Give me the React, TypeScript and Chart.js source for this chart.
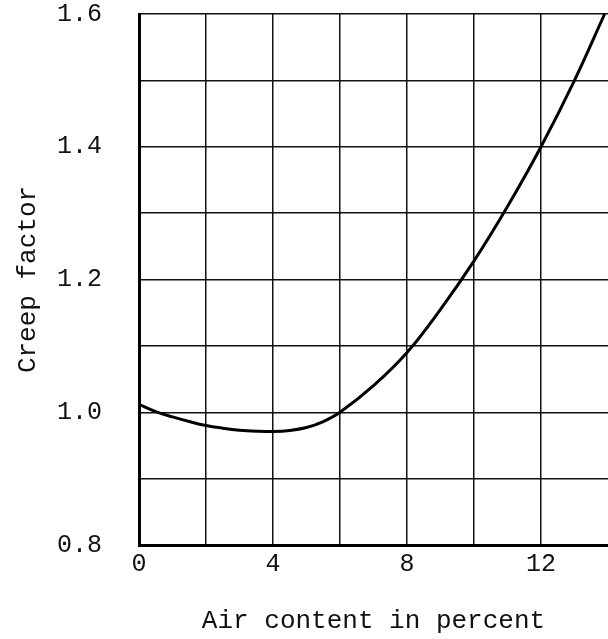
import React, { useEffect, useRef } from "react";
import { Chart, registerables } from "chart.js";

Chart.register(...registerables);

const airContent = [0, 0.5, 1, 1.5, 2, 2.5, 3, 3.5, 4, 4.5, 5, 5.5, 6, 7, 8, 9, 10, 11, 12, 13, 13.9];
const creepFactor = [1.012, 1.001, 0.993, 0.986, 0.98, 0.976, 0.973, 0.9715, 0.971, 0.9725, 0.977, 0.986, 1.0, 1.04, 1.09, 1.155, 1.228, 1.31, 1.4, 1.5, 1.6];
const xLabelValues = [0, 4, 8, 12];
const yLabelValues = [0.8, 1.0, 1.2, 1.4, 1.6];
const xTitle = "Air content in percent";
const yTitle = "Creep factor";

const FONT = "'Liberation Mono', 'DejaVu Sans Mono', monospace";

export default function App() {
  const ref = useRef<HTMLCanvasElement>(null);
  useEffect(() => {
    if (!ref.current) return;
    const chart = new Chart(ref.current, {
      type: "line",
      data: {
        datasets: [
          {
            data: airContent.map((x, i) => ({ x, y: creepFactor[i] })),
            borderColor: "#000",
            borderWidth: 3,
            pointRadius: 0,
            tension: 0.4,
            fill: false,
          },
        ],
      },
      options: {
        animation: false,
        responsive: false,
        devicePixelRatio: 1,
        layout: { padding: { left: 13, right: 0, top: 0, bottom: 2 } },
        plugins: { legend: { display: false }, tooltip: { enabled: false } },
        scales: {
          x: {
            type: "linear",
            min: 0,
            max: 14,
            afterFit: (s: any) => {
              s.height = 92;
              s.paddingLeft = 0;
              s.paddingRight = 0;
            },
            ticks: {
              stepSize: 2,
              autoSkip: false,
              maxRotation: 0,
              padding: 4,
              color: "#111",
              font: { family: FONT, size: 25 },
              callback: (v: any) => (xLabelValues.includes(Number(v)) ? String(v) : ""),
            },
            grid: {
              drawTicks: false,
              color: (c: any) => (c.tick && c.tick.value === 14 ? "rgba(0,0,0,0)" : "#111"),
              lineWidth: 1.5,
            },
            border: { color: "#000", width: 3 },
            title: {
              display: true,
              text: xTitle,
              color: "#111",
              font: { family: FONT, size: 26 },
              padding: 0,
            },
          },
          y: {
            type: "linear",
            min: 0.8,
            max: 1.6,
            afterFit: (s: any) => {
              s.width = 126;
              s.paddingTop = 14;
              s.paddingBottom = 0;
            },
            ticks: {
              stepSize: 0.1,
              autoSkip: false,
              padding: 37,
              color: "#111",
              font: { family: FONT, size: 25 },
              callback: (v: any) => {
                const n = Math.round(Number(v) * 10) / 10;
                return yLabelValues.some((t) => Math.abs(t - n) < 1e-6) ? n.toFixed(1) : "";
              },
            },
            grid: {
              drawTicks: false,
              color: "#111",
              lineWidth: 1.5,
            },
            border: { color: "#000", width: 3 },
            title: {
              display: true,
              text: yTitle,
              color: "#111",
              font: { family: FONT, size: 26 },
              padding: 0,
            },
          },
        },
      },
    });
    return () => chart.destroy();
  }, []);
  return (
    <div style={{ position: "absolute", left: 0, top: 0, width: 608, height: 639, background: "#fff" }}>
      <canvas ref={ref} width={608} height={639} style={{ display: "block", width: 608, height: 639 }} />
    </div>
  );
}
